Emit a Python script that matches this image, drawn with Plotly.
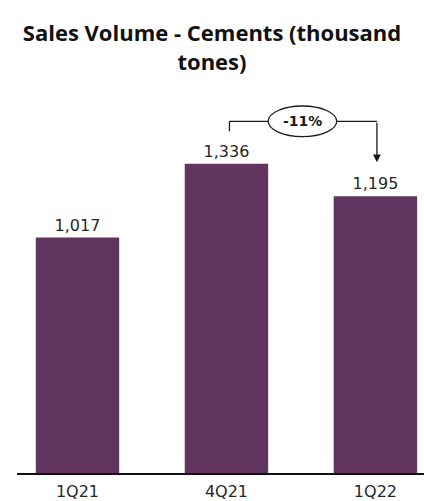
import plotly.graph_objects as go

categories = ["1Q21", "4Q21", "1Q22"]
values = [1017, 1336, 1195]
value_labels = ["1,017", "1,336", "1,195"]
change_label = "-11%"

BAR_COLOR = "#61355F"

fig = go.Figure()
fig.add_trace(go.Bar(
    x=categories, y=values,
    marker=dict(color=BAR_COLOR, line=dict(width=0)),
    text=value_labels, textposition="outside",
    textfont=dict(family="DejaVu Sans", size=16, color="#262626"),
    cliponaxis=False, width=0.56,
))

# bracket annotation between 4Q21 and 1Q22
top = values[1] * 1.137
left_bottom = values[1] + 140
tip = values[2] + 147
xl, xr = 1.02, 2.01
ex0, ex1 = 1.28, 1.74
line = dict(color="#1a1a1a", width=1.3)
fig.add_shape(type="line", xref="x", yref="y", x0=xl, x1=xl, y0=left_bottom, y1=top, line=line)
fig.add_shape(type="line", xref="x", yref="y", x0=xl, x1=ex0, y0=top, y1=top, line=line)
fig.add_shape(type="line", xref="x", yref="y", x0=ex1, x1=xr, y0=top, y1=top, line=line)
fig.add_shape(type="circle", xref="x", yref="y", x0=ex0, x1=ex1, y0=top - 66, y1=top + 66,
              line=dict(color="#1a1a1a", width=1.3), fillcolor="white")
fig.add_annotation(x=(ex0 + ex1) / 2, y=top, xref="x", yref="y", text="<b>" + change_label + "</b>",
                   showarrow=False, font=dict(family="DejaVu Sans", size=14, color="#1a1a1a"))
fig.add_annotation(x=xr, y=tip, ax=xr, ay=top, xref="x", yref="y", axref="x", ayref="y",
                   text="", showarrow=True, arrowhead=2, arrowsize=1.2, arrowwidth=1.3,
                   arrowcolor="#1a1a1a")

fig.update_layout(
    width=424, height=501,
    margin=dict(l=17, r=0, t=100, b=28),
    paper_bgcolor="white", plot_bgcolor="white",
    showlegend=False,
    title=dict(text="<b>Sales Volume - Cements (thousand<br>tones)</b>",
               x=0.5, xanchor="center", y=0.918, yanchor="top", yref="container",
               font=dict(family="Open Sans", size=22, color="#111111")),
    xaxis=dict(type="category", range=[-0.406, 2.326], showline=True, linecolor="#111111",
               linewidth=1.5, ticks="", showgrid=False, ticklabelstandoff=3,
               tickfont=dict(family="DejaVu Sans", size=16, color="#262626")),
    yaxis=dict(range=[0, 1611], visible=False, showgrid=False),
)

fig.write_html("out.html")
